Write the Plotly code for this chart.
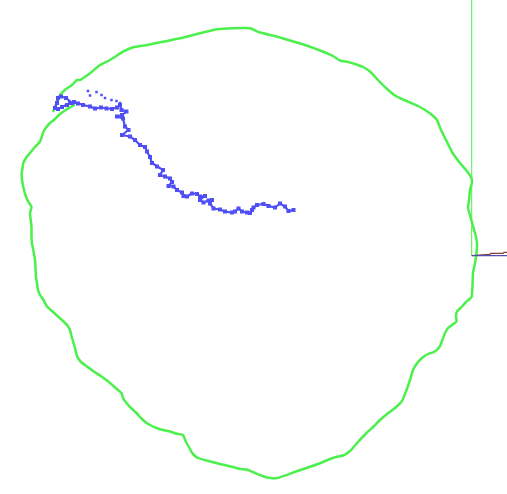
import plotly.graph_objects as go

# green boundary curve (screen-like units, y grows downward)
green_x = [53, 57, 60, 66, 72, 77, 80, 90, 100, 110, 123, 133, 147, 163, 180, 200, 217, 233, 250,
           260, 275, 290, 305, 320, 333, 340, 348, 355, 363, 370, 378, 386, 395, 403, 410, 418, 425,
           432, 437, 441, 446, 452, 460, 466, 471, 472, 470, 469, 468, 470, 473, 475, 477, 476.5,
           475, 473, 472.5, 471.5, 466, 461.5, 457, 456, 456.5, 452, 448, 445, 442, 439.5, 434, 428,
           422, 416.5, 413, 410, 406.5, 402, 395, 387, 380, 373, 366.5, 358, 350, 343, 336, 330, 318,
           306.5, 296, 286.5, 277, 267, 260, 253, 246.5, 240, 233, 220, 206.5, 198, 194, 191.5, 189,
           186.5, 184, 183, 176, 170, 163, 156.5, 150, 146.5, 141, 136.5, 131, 126.5, 123, 121.5,
           118, 114, 110, 105, 100, 93, 87, 81, 78, 77, 75.5, 73.5, 71.5, 70, 67, 62, 58, 52, 47,
           43.5, 40, 38, 37, 36, 35.5, 35, 34, 33.3, 32, 31.5, 31.5, 30.5, 30, 31.5, 28.5, 26.5,
           24.5, 23.3, 22, 21.7, 22.5, 23.3, 26, 30, 35, 40, 42, 43.5, 46.5, 50, 55, 59, 65, 70, 75]
green_y = [112, 102, 95, 89, 85, 80, 80, 73.3, 65, 60, 51.7, 47.3, 45, 41.7, 38.3, 33.3, 29.3, 28.3,
           28.3, 32.5, 36, 40.5, 45, 50.5, 56, 60.5, 62, 64, 67, 71.5, 80, 88, 95.5, 99.5, 102.5,
           106, 110, 115, 120, 130, 140, 152, 163, 170, 177, 182, 190, 200, 208, 215, 226, 233, 243,
           253, 263, 273, 285, 297, 302, 307, 311.5, 316, 321.5, 325, 328, 333, 341, 347, 352, 354,
           358, 364, 370, 380, 390, 401, 408, 414, 420, 427, 433, 442, 451, 455.5, 457, 459, 464,
           468, 471.5, 475, 478, 477.5, 475, 472, 469.5, 469, 467, 464, 460.5, 458, 455, 452, 447,
           443, 437, 435, 433.5, 431.5, 430, 428, 425, 423, 418, 413, 408, 403, 398, 393, 390,
           386.5, 383, 379, 375.5, 371, 366.5, 362, 358, 356, 350, 343, 336, 330, 325, 320, 316.5,
           311, 306.5, 300, 295, 290, 283, 277, 268, 260, 254, 250, 244, 236, 227, 218, 213, 207,
           202, 198, 192, 187, 180, 173, 168, 163, 158, 153, 147, 141.5, 136, 131.5, 127, 123, 119,
           115, 110.5, 107.5, 104.5]

# blue walk
blue_x = [72, 66, 61, 58, 57, 55, 58, 62, 67, 70, 74, 78, 83, 90, 95, 101, 106.5, 112, 117, 120,
          121.5, 126.5, 122, 117, 123, 125, 128.5, 122, 130, 135, 140, 145, 147, 150, 152, 157, 163,
          160, 165, 170, 172, 168.5, 173.5, 177, 182, 183.5, 187, 192, 197, 200, 205, 200, 203.5,
          208.5, 212, 210, 213.5, 220, 225, 232, 235, 238.5, 242, 247, 250, 252, 253.5, 257, 263.5,
          268.5, 275, 280, 285, 288.5, 293.5]
blue_y = [103, 98, 96.5, 98, 103, 108, 109, 107, 105, 103, 102, 103.5, 105, 106.5, 108.5, 107.5,
          108.5, 109, 107.5, 105, 110, 111.5, 115, 116.5, 118.5, 126.5, 130, 135, 136.5, 140, 145,
          147, 151.5, 157, 163, 166.5, 170, 175, 176.5, 178.5, 182, 186, 186.5, 190, 192.5, 196,
          196.5, 193.5, 194, 196.5, 196, 200, 202.5, 200.5, 200, 203.5, 208.5, 209.5, 211.5, 212.5,
          211.5, 208.5, 211.5, 212.5, 213, 210, 207.5, 205, 204, 206, 207.5, 203.5, 206.5, 211, 210]

dots_x = [88, 90, 96.5, 101.5, 105, 111.5, 116.5, 120]
dots_y = [91, 95.5, 92, 95, 98, 100, 101, 103]

# axis gizmo at the right edge
gizmo_x = {"up": [471.7, 471.7], "red": [471.7, 490, 490.7, 503, 504, 507], "blue": [471.7, 507]}
gizmo_y = {"up": [0, 255.7], "red": [255.7, 254.3, 253.3, 253.3, 252.3, 252.3], "blue": [255.7, 255.7]}

fig = go.Figure()
fig.add_trace(go.Scatter(x=green_x, y=green_y, mode="lines", line=dict(color="#4cf04c", width=2.5, shape="spline", smoothing=0.5)))
fig.add_trace(go.Scatter(x=blue_x, y=blue_y, mode="lines+markers", line=dict(color="#4f4ff5", width=2.2),
                         marker=dict(color="#4f4ff5", size=4, symbol="square")))
fig.add_trace(go.Scatter(x=dots_x, y=dots_y, mode="markers", marker=dict(color="#4f4ff5", size=2.5, symbol="square")))
fig.add_trace(go.Scatter(x=gizmo_x["up"], y=gizmo_y["up"], mode="lines", line=dict(color="#4cf04c", width=1)))
fig.add_trace(go.Scatter(x=gizmo_x["red"], y=gizmo_y["red"], mode="lines", line=dict(color="#8b3a3a", width=1.2)))
fig.add_trace(go.Scatter(x=gizmo_x["blue"], y=gizmo_y["blue"], mode="lines", line=dict(color="#4f4fb0", width=1.2)))

fig.update_layout(
    width=507, height=494,
    margin=dict(l=0, r=0, t=0, b=0),
    showlegend=False,
    plot_bgcolor="white", paper_bgcolor="white",
    xaxis=dict(range=[0, 507], visible=False, fixedrange=True),
    yaxis=dict(range=[494, 0], visible=False, fixedrange=True),
)
fig.write_html("out.html", config={"displayModeBar": False},
               post_script="document.body.style.margin='0';document.body.style.overflow='hidden';")
